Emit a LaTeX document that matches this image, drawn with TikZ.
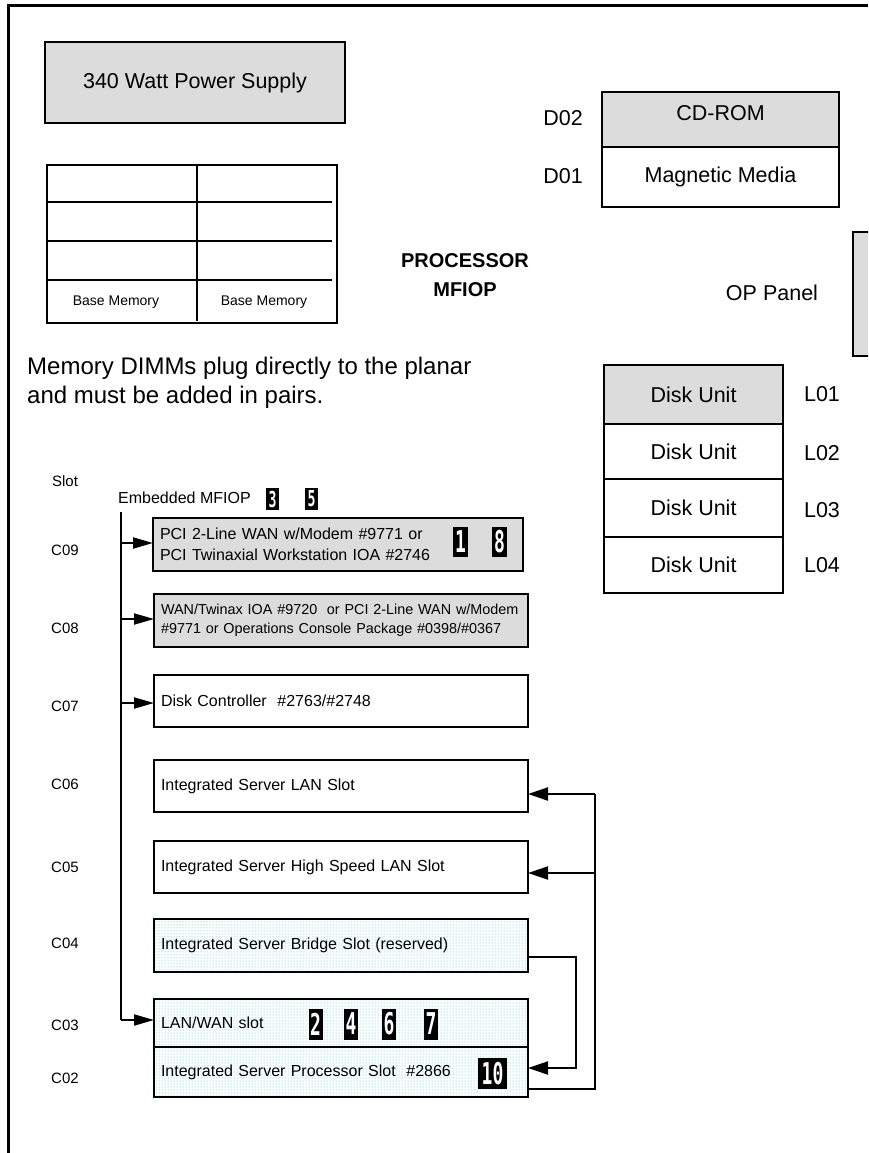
\documentclass[tikz,border=0pt]{standalone}
\usepackage{fontspec}
\usepackage{graphicx}
\setmainfont{Liberation Sans}
\newfontfamily\monofnt{DejaVu Sans Mono}
\usetikzlibrary{arrows.meta,patterns}
\definecolor{boxgray}{RGB}{220,220,220}
\definecolor{dotcyan}{RGB}{60,195,195}
\newcommand\fsz[2]{\fontsize{#1}{#2}\selectfont}
\newcommand\bdgtxt[1]{\scalebox{0.6}[1]{#1}}
\begin{document}
\begin{tikzpicture}[x=1pt,y=-1pt,
  box/.style={draw, line width=2pt, inner sep=0pt, outer sep=0pt},
  graybox/.style={box, fill=boxgray},
  dotbox/.style={pattern=dots, pattern color=dotcyan},
  lbl/.style={font=\fsz{21.5}{26}, inner sep=0pt},
  slotlbl/.style={font=\fsz{15}{18}, inner sep=0pt},
  slot/.style={box, anchor=north west, minimum height=53pt, text width=360pt, inner xsep=7pt, align=left, font=\fsz{16}{21}},
  badge/.style={fill=black, text=white, inner sep=0pt, font=\monofnt\bfseries\fsz{30}{30}, minimum width=15pt, minimum height=30pt},
  smallbadge/.style={badge, font=\monofnt\bfseries\fsz{22}{22}, minimum width=13pt, minimum height=22pt},
  bus/.style={line width=2pt},
  arr/.style={bus, -{Triangle[length=20pt,width=11pt]}},
  rarr/.style={bus, -{Triangle[length=20pt,width=13pt]}}
]
\clip (0,0) rectangle (868,1153);
\fill[white] (0,0) rectangle (868,1153);
% frame
\draw[line width=3pt] (868,6) -- (8,6) -- (8,1153);

% power supply
\node[graybox, minimum width=300pt, minimum height=81pt, font=\fsz{21.5}{26}] (psu) at (195,82.5) {340 Watt Power Supply};

% memory table
\node[box, minimum width=290pt, minimum height=158pt] (mem) at (192,244) {};
\draw[line width=2pt] (47,202) -- (332,202) (47,241) -- (332,241) (47,280) -- (332,280);
\draw[line width=2pt] (197,165) -- (197,321);
\node[font=\fsz{14}{17}, inner sep=0pt] (bm1) at (116,302) {Base Memory};
\node[font=\fsz{14}{17}, inner sep=0pt] (bm2) at (264,302) {Base Memory};

\node[anchor=west, align=left, inner sep=0pt, font=\fsz{24}{29}] (memnote) at (27,383) {Memory DIMMs plug directly to the planar\\and must be added in pairs.};

% processor
\node[font=\bfseries\fsz{20}{29}, align=center, inner sep=0pt] (proc) at (465,275.5) {PROCESSOR\\MFIOP};

% media bays
\node[graybox, line width=2.4pt, minimum width=237pt, minimum height=55pt] (cdrom) at (720.5,119.5) {};
\node[lbl] at (720.5,113) {CD-ROM};
\node[box, minimum width=237pt, minimum height=60pt, lbl] (mag) at (720.5,177) {Magnetic Media};
\node[lbl] (d02) at (563,118) {D02};
\node[lbl] (d01) at (563,176) {D01};

% OP panel
\node[lbl] (optxt) at (772,293) {OP Panel};
\node[graybox, minimum width=40pt, minimum height=124pt] (oppanel) at (873,294) {};

% disk units
\node[graybox, line width=2.4pt, minimum width=179pt, minimum height=59pt, lbl] (l01) at (693.5,394.5) {Disk Unit};
\node[box, minimum width=179pt, minimum height=55pt, lbl] (l02) at (693.5,451.5) {Disk Unit};
\node[box, minimum width=179pt, minimum height=58pt, lbl] (l03) at (693.5,508) {Disk Unit};
\node[box, minimum width=179pt, minimum height=56pt, lbl] (l04) at (693.5,565) {Disk Unit};
\node[lbl] (t01) at (822,394.5) {L01};
\node[lbl] (t02) at (822,453) {L02};
\node[lbl] (t03) at (822,510) {L03};
\node[lbl] (t04) at (822,565) {L04};

% slot labels
\node[slotlbl] (slot) at (65,481) {Slot};
\node[slotlbl] (s09) at (65,550) {C09};
\node[slotlbl] (s08) at (65,628) {C08};
\node[slotlbl] (s07) at (65,706) {C07};
\node[slotlbl] (s06) at (65,784) {C06};
\node[slotlbl] (s05) at (65,867) {C05};
\node[slotlbl] (s04) at (65,943) {C04};
\node[slotlbl] (s03) at (65,1025) {C03};
\node[slotlbl] (s02) at (65,1078) {C02};

% embedded MFIOP
\node[anchor=west, inner sep=0pt, font=\fsz{16}{19}] (emb) at (118,498) {Embedded MFIOP};
\node[smallbadge] (b3) at (272.5,499) {\bdgtxt{3}};
\node[smallbadge] (b5) at (311.5,499) {\bdgtxt{5}};

% slots
\node[slot, fill=boxgray, text width=356pt] (c09) at (153,518) {PCI 2-Line WAN w/Modem \#9771 or\\PCI Twinaxial Workstation IOA \#2746};
\node[badge] (b1) at (460.5,542) {\bdgtxt{1}};
\node[badge] (b8) at (499.5,542) {\bdgtxt{8}};
\node[slot, fill=boxgray, font=\fsz{14.4}{18.5}] (c08) at (154,594) {WAN/Twinax IOA \#9720\ \ or PCI 2-Line WAN w/Modem\\\#9771 or Operations Console Package \#0398/\#0367};
\node[slot, minimum height=52pt] (c07) at (154,675) {Disk Controller\ \ \#2763/\#2748};
\node[slot, minimum height=52pt] (c06) at (154,760) {Integrated Server LAN Slot};
\node[slot, minimum height=52pt] (c05) at (154,841) {Integrated Server High Speed LAN Slot};
\node[slot, dotbox] (c04) at (154,919) {Integrated Server Bridge Slot (reserved)};
\node[slot, dotbox, minimum height=48pt] (c03) at (154,999) {LAN/WAN slot};
\node[slot, dotbox, minimum height=50pt] (c02) at (154,1047) {Integrated Server Processor Slot\ \ \#2866};
\node[badge, minimum width=14pt, minimum height=31pt] (b2) at (315.5,1024) {\bdgtxt{2}};
\node[badge, minimum width=14pt, minimum height=31pt] (b4) at (351,1024) {\bdgtxt{4}};
\node[badge, minimum width=14pt, minimum height=31pt] (b6) at (389,1024) {\bdgtxt{6}};
\node[badge, minimum width=14pt, minimum height=31pt] (b7) at (431,1024) {\bdgtxt{7}};
\node[badge, minimum width=29pt, minimum height=31pt] (b10) at (492.5,1073.5) {\bdgtxt{10}};

% bus
\coordinate (bustop) at (121,512);
\coordinate (b9) at (121,543);
\coordinate (b8c) at (121,619);
\coordinate (b7c) at (121,703);
\coordinate (b3c) at (121,1020);
\draw[bus] (bustop) -- (b3c);
\draw[arr] (b9) -- (b9 -| c09.west);
\draw[arr] (b8c) -- (b8c -| c08.west);
\draw[arr] (b7c) -- (b7c -| c07.west);
\draw[arr] (b3c) -- (b3c -| c03.west);

% right side connectors
\coordinate (r6) at (595,794);
\coordinate (r5) at (595,873);
\coordinate (r2) at (595,1089);
\draw[bus] (r2 -| c02.east) -- (r2) -- (r6);
\draw[rarr] (r6) -- (r6 -| c06.east);
\draw[rarr] (r5) -- (r5 -| c05.east);
\coordinate (q4) at (576,957);
\coordinate (q2) at (576,1068);
\draw[rarr] (q4 -| c04.east) -- (q4) -- (q2) -- (q2 -| c02.east);
\end{tikzpicture}
\end{document}
